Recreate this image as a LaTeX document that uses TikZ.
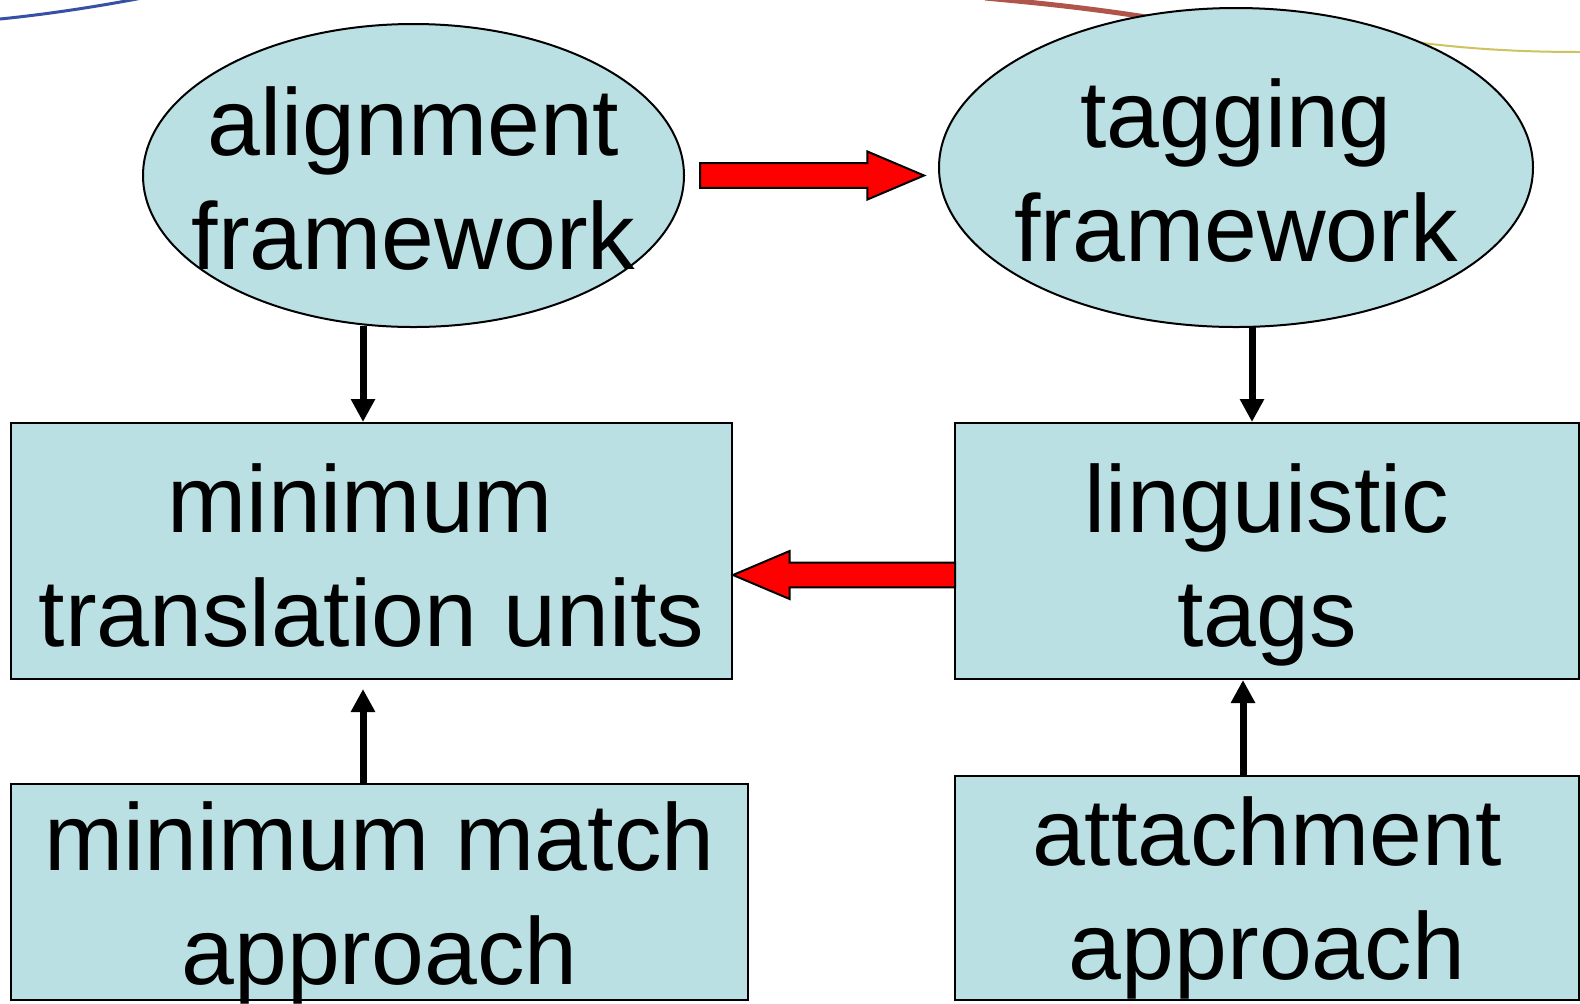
\documentclass[tikz,border=0pt]{standalone}
\usepackage{fontspec}
\setmainfont{Liberation Sans}
\usetikzlibrary{calc,shapes.geometric,arrows.meta}
\definecolor{boxfill}{RGB}{186,224,227}
\definecolor{arrred}{RGB}{255,0,0}
\definecolor{bgblue}{RGB}{55,80,165}
\definecolor{bgred}{RGB}{175,85,75}
\definecolor{bgyellow}{RGB}{205,195,95}
\tikzset{
  ell/.style={ellipse, draw=black, line width=1pt, fill=boxfill, inner sep=0pt},
  boxnode/.style={rectangle, draw=black, line width=1pt, fill=boxfill, inner sep=0pt},
  lbl/.style={inner sep=0pt, align=center, font=\fontsize{47.5}{57}\selectfont},
  redarrow/.style={draw=black, line width=1pt, fill=arrred, line join=miter},
  blk/.style={draw=black, line width=3.5pt, -{Triangle[length=11.5pt,width=11.5pt]}},
}
\newcommand\blockarrow[2]{%
  \path[redarrow] let \p1=(#1), \p2=(#2), \n1={sign(\x2-\x1)} in
    (\x1,\y1+6.2pt) -- (\x2-\n1*28.3pt,\y1+6.2pt) -- (\x2-\n1*28.3pt,\y1+12pt) -- (\x2,\y1)
    -- (\x2-\n1*28.3pt,\y1-12pt) -- (\x2-\n1*28.3pt,\y1-6.2pt) -- (\x1,\y1-6.2pt) -- cycle;}
\begin{document}
\begin{tikzpicture}[x=0.5pt,y=-0.5pt]
\useasboundingbox (0,0) rectangle (1580,1003);
% background decoration
\draw[bgblue, line width=1.5pt] (0,19) .. controls (50,14) and (100,6) .. (142,-2);
\draw[bgred, line width=2.5pt] (985,-2) .. controls (1050,4) and (1110,10) .. (1200,26);
\draw[bgyellow, line width=1pt] (1400,40) .. controls (1470,50) and (1530,52) .. (1582,52);
% ellipses
\node[ell, minimum width=270.5pt, minimum height=151.5pt] (a) at (413.5,175.5) {};
\node[lbl] (atext) at (413.5,179) {alignment\\framework};
\node[ell, minimum width=297pt, minimum height=159.5pt] (b) at (1236,167.5) {};
\node[lbl] (btext) at (1236,171) {tagging\\framework};
% boxes
\node[boxnode, minimum width=360.5pt, minimum height=128pt] (mtu) at (371.5,551) {};
\node[lbl] (mtutext) at (371.5,556) {minimum\kern11pt\\translation units};
\node[boxnode, minimum width=312pt, minimum height=128pt] (lt) at (1267,551) {};
\node[lbl] (lttext) at (1267,565) {linguistic\\tags};
\node[boxnode, minimum width=368.5pt, minimum height=108pt] (mma) at (379.5,892) {};
\node[lbl] (mmatext) at (379.5,903) {minimum match\\approach};
\node[boxnode, minimum width=312pt, minimum height=112pt] (att) at (1267,888) {};
\node[lbl] (atttext) at (1267,898) {attachment\\approach};
% red block arrows
\coordinate (s1) at ($(a.east)+(15,0)$);
\coordinate (e1) at ($(b.west |- s1)+(-14,0)$);
\blockarrow{s1}{e1}
\coordinate (e2) at ($(mtu.east)+(0,24)$);
\coordinate (s2) at ($(lt.west |- e2)+(1,0)$);
\blockarrow{s2}{e2}
% black arrows
\coordinate (c1) at (363,0);
\coordinate (c2) at (1252,0);
\coordinate (c3) at (1243,0);
\draw[blk] ($(c1 |- a.south)+(0,-2)$) -- (c1 |- mtu.north);
\draw[blk] ($(c2 |- b.south)+(0,-2)$) -- (c2 |- lt.north);
\draw[blk] (c1 |- mma.north) -- ($(c1 |- mtu.south)+(0,9)$);
\draw[blk] (c3 |- att.north) -- (c3 |- lt.south);
\end{tikzpicture}
\end{document}
